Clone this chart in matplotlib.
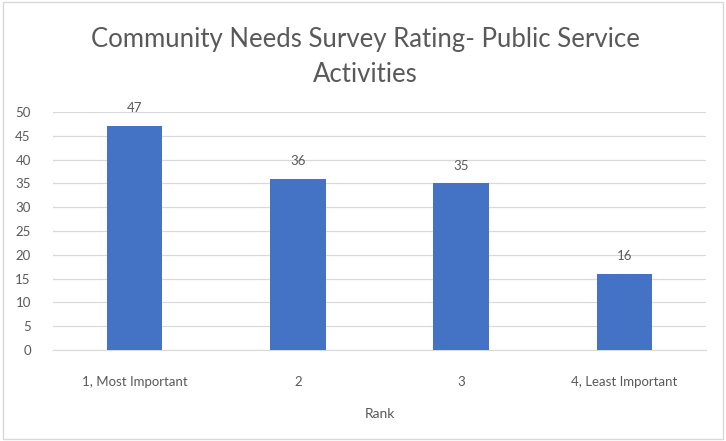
import matplotlib
matplotlib.use("Agg")
import matplotlib.pyplot as plt
from matplotlib.patches import Rectangle

categories = ["1, Most Important", "2", "3", "4, Least Important"]
values = [47, 36, 35, 16]
yticks = [0, 5, 10, 15, 20, 25, 30, 35, 40, 45, 50]

plt.rcParams['font.family'] = ['Lato', 'DejaVu Sans']
gray = "#595959"

fig = plt.figure(figsize=(7.26, 4.41), dpi=100)
fig.patch.set_facecolor("white")
fig.add_artist(Rectangle((0.004, 0.005), 0.992, 0.99, transform=fig.transFigure,
                         fill=False, edgecolor="#d9d9d9", linewidth=1))

ax = fig.add_axes([53/726, 1 - 350/441, (706-53)/726, (350-112)/441])
x = range(len(categories))
bars = ax.bar(x, values, width=0.34, color="#4472c4", zorder=3)
for xi, v in zip(x, values):
    ax.text(xi, v + 2.5, str(v), ha="center", va="bottom", fontsize=9.5, color=gray)

ax.set_xlim(-0.5, 3.5)
ax.set_ylim(0, 50)
ax.set_yticks(yticks)
ax.set_xticks(list(x))
ax.set_xticklabels(categories)
ax.tick_params(axis="both", length=0, labelsize=9.5, labelcolor=gray)
ax.tick_params(axis="x", pad=19)
ax.tick_params(axis="y", pad=16)
ax.grid(axis="y", color="#d9d9d9", linewidth=0.9, zorder=0)
for s in ["top", "right", "left"]:
    ax.spines[s].set_visible(False)
ax.spines["bottom"].set_color("#d9d9d9")
ax.set_xlabel("Rank", fontsize=10, color=gray, labelpad=14)

fig.text(0.503, 1 - 57/441, "Community Needs Survey Rating- Public Service\nActivities",
         ha="center", va="center", fontsize=18.5, color=gray, linespacing=1.5)

fig.savefig("out.png", dpi=100)
